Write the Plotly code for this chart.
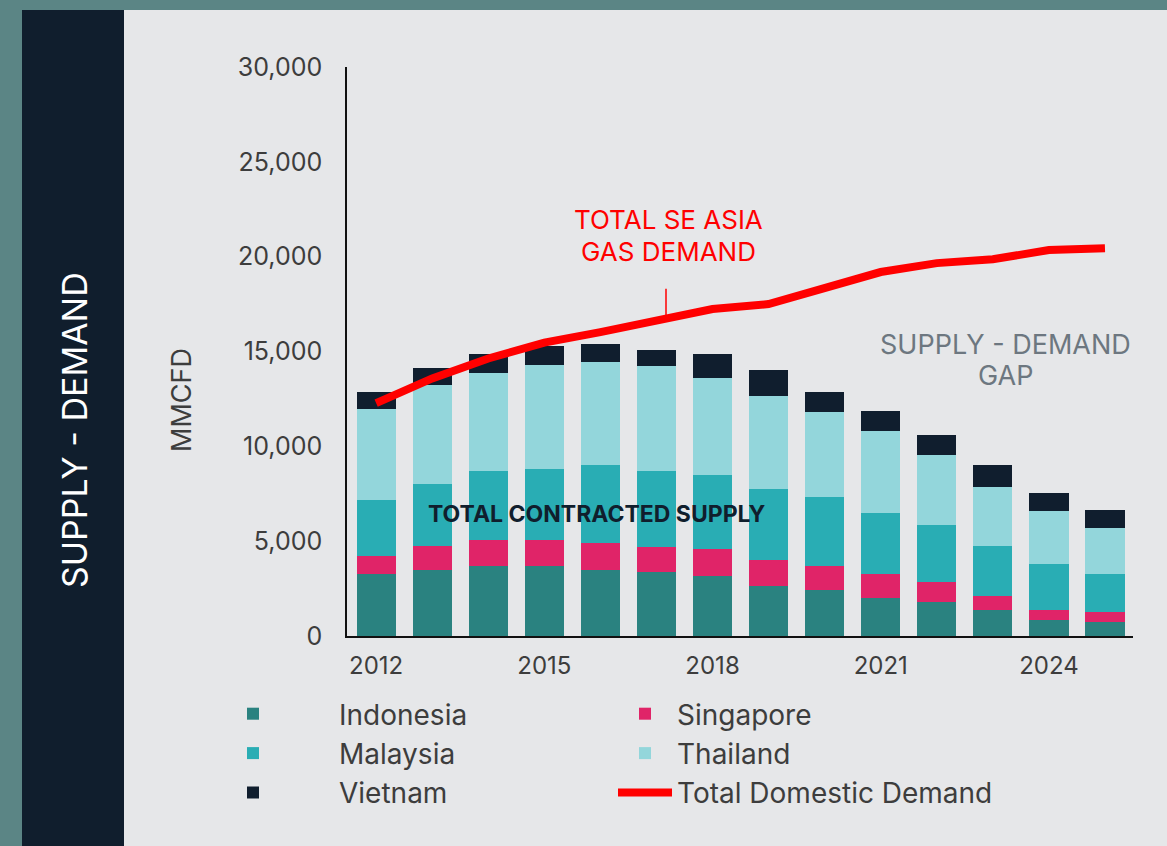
import plotly.graph_objects as go

# ---------------- data (MMCFD) ----------------
years = [2012, 2013, 2014, 2015, 2016, 2017, 2018, 2019, 2020, 2021, 2022, 2023, 2024, 2025]
indonesia = [3270, 3480, 3690, 3690, 3480, 3370, 3160, 2640, 2420, 2000, 1790, 1370, 840, 740]
singapore = [950, 1260, 1370, 1370, 1420, 1320, 1430, 1370, 1270, 1270, 1060, 740, 530, 530]
malaysia = [2950, 3270, 3640, 3740, 4110, 4010, 3900, 3740, 3640, 3210, 3000, 2630, 2430, 2000]
thailand = [4800, 5220, 5160, 5490, 5430, 5530, 5110, 4900, 4480, 4330, 3690, 3110, 2790, 2420]
vietnam = [890, 900, 1010, 1000, 950, 850, 1270, 1370, 1050, 1050, 1060, 1160, 950, 950]
demand = [12280, 13580, 14630, 15470, 16020, 16580, 17240, 17500, 18310, 19190, 19660, 19860, 20350, 20450]

series_names = ["Indonesia", "Singapore", "Malaysia", "Thailand", "Vietnam"]
series_values = [indonesia, singapore, malaysia, thailand, vietnam]
series_colors = ["#2a8280", "#e02468", "#29adb4", "#93d6db", "#101e2e"]
series_legend = ["legend", "legend2", "legend", "legend2", "legend"]

x_tick_vals = [2012, 2015, 2018, 2021, 2024]
y_tick_vals = [0, 5000, 10000, 15000, 20000, 25000, 30000]

# ---------------- layout geometry (pixels) ----------------
W, H = 1167, 846
PL, PR, PT, PB = 347, 1133, 67, 636  # plot area edges


def px(x):
    return (x - PL) / (PR - PL)


def py(y):
    return (PB - y) / (PB - PT)


FONT = "Inter"
TXT = "#3d3d3d"

fig = go.Figure()
for name, vals, col, lg in zip(series_names, series_values, series_colors, series_legend):
    fig.add_trace(go.Bar(x=years, y=vals, name=name, legend=lg,
                         marker=dict(color=col, line=dict(width=0))))

fig.add_trace(go.Scatter(x=years, y=demand, name="Total Domestic Demand", mode="lines", legend="legend2",
                         line=dict(color="#ff0000", width=8)))

shapes = [
    dict(type="rect", xref="paper", yref="paper", x0=px(124), x1=px(W + 5), y0=py(10), y1=py(H + 5),
         fillcolor="#e6e7e9", line=dict(width=0), layer="below"),
    dict(type="rect", xref="paper", yref="paper", x0=px(22), x1=px(124), y0=py(10), y1=py(H + 5),
         fillcolor="#101e2d", line=dict(width=0), layer="below"),
]


def label(text, x, y, size, color, angle=0):
    return dict(text=text, xref="paper", yref="paper", x=px(x), y=py(y), showarrow=False,
                textangle=angle, font=dict(family=FONT, size=size, color=color),
                xanchor="center", yanchor="middle")


annotations = [
    label("SUPPLY - DEMAND", 75, 430, 34, "#ffffff", -90),
    label("MMCFD", 181, 400, 27, TXT, -90),
    label("TOTAL SE ASIA", 668, 220, 26, "#ff0000"),
    label("GAS DEMAND", 668, 251, 26, "#ff0000"),
    dict(text="", x=2017.17, y=16700, xref="x", yref="y", showarrow=True, arrowhead=0, arrowwidth=1.5,
         arrowcolor="#ff0000", ax=0, ay=-32),
    label("<b>TOTAL CONTRACTED SUPPLY</b>", 597, 514, 23, "#101e2d"),
    label("SUPPLY - DEMAND", 1005, 344, 27, "#6d7780"),
    label("GAP", 1005, 375, 27, "#6d7780"),
]

legend_common = dict(orientation="v", yanchor="top", xanchor="left", traceorder="normal",
                     font=dict(family=FONT, size=28, color=TXT), bgcolor="rgba(0,0,0,0)")

fig.update_layout(
    width=W, height=H,
    margin=dict(l=PL, r=W - PR, t=PT, b=H - PB, pad=0),
    paper_bgcolor="#5b8585",
    plot_bgcolor="rgba(0,0,0,0)",
    barmode="stack",
    bargap=0.3,
    font=dict(family=FONT, size=24, color=TXT),
    shapes=shapes,
    annotations=annotations,
    showlegend=True,
    legend=dict(x=px(167), y=py(689), itemwidth=162, **legend_common),
    legend2=dict(x=px(613), y=py(689), itemwidth=54, **legend_common),
    xaxis=dict(range=[2011.48, 2025.5], tickvals=x_tick_vals, ticktext=[str(v) for v in x_tick_vals],
               showgrid=False, zeroline=False, showline=True, linecolor="#111111", linewidth=2,
               ticks="", ticklabelstandoff=7, tickfont=dict(size=24, color=TXT)),
    yaxis=dict(range=[0, 30000], tickvals=y_tick_vals, tickformat=",", showgrid=False, zeroline=False,
               showline=True, linecolor="#111111", linewidth=1.5, ticks="", ticklabelstandoff=18,
               tickfont=dict(size=25, color=TXT)),
)

fig.write_html("out.html", config={"displayModeBar": False},
               post_script="document.body.style.margin='0';")
